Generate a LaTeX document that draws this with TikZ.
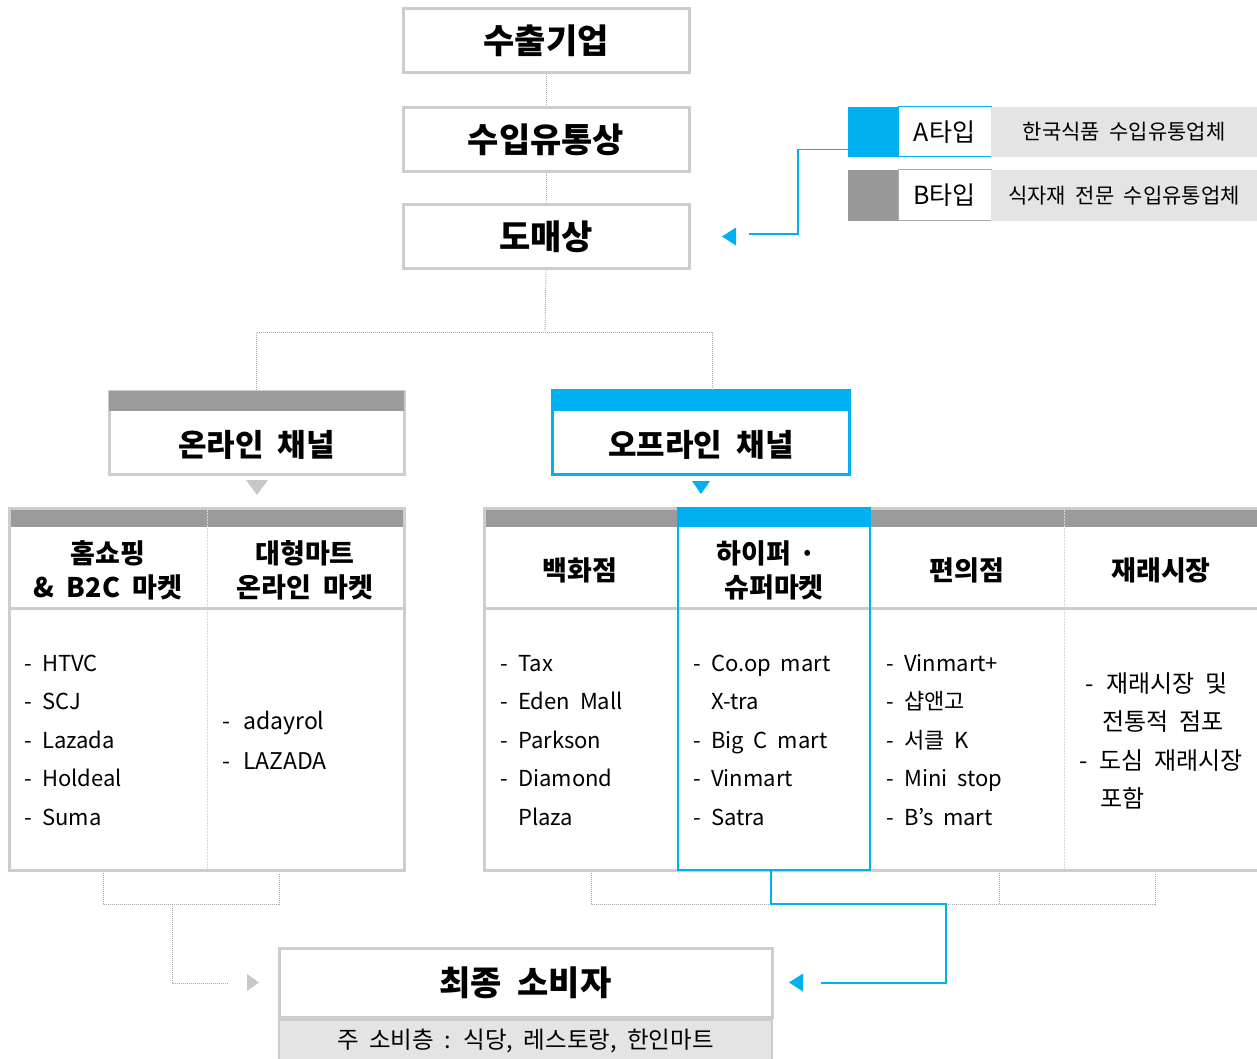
\documentclass[tikz,border=0pt]{standalone}
\usepackage{fontspec}
\setmainfont{Noto Sans CJK KR}[WordSpace=2]
\usetikzlibrary{calc}
\definecolor{cblue}{HTML}{00B0F0}
\definecolor{cbar}{HTML}{9B9B9B}
\definecolor{cbord}{HTML}{CDCDCD}
\definecolor{clite}{HTML}{E4E4E4}
\definecolor{cdot}{HTML}{ABABAB}
\definecolor{cdiv}{HTML}{D8D8D8}
\definecolor{ctri}{HTML}{C8C8C8}
\definecolor{cbgray}{HTML}{999999}
\definecolor{cbbord}{HTML}{AAAAAA}
\newcommand\dsh[1][18pt]{\makebox[#1][l]{-}}
\newcommand\ind[1][18pt]{\hspace*{#1}}
\begin{document}
\begin{tikzpicture}[x=1pt,y=-1pt,
  titlebox/.style={draw=cbord,line width=3pt,fill=white,minimum width=286pt,minimum height=64pt,inner sep=0pt,font=\fontsize{34}{40}\selectfont\bfseries},
  chantext/.style={inner sep=0pt,font=\fontsize{31}{36}\selectfont\bfseries},
  headtext/.style={inner sep=0pt,anchor=base,font=\fontsize{27}{32}\selectfont\bfseries},
  listtext/.style={inner sep=0pt,anchor=base west,font=\fontsize{22}{26}\selectfont},
  dotline/.style={draw=cdot,line width=0.9pt,dash pattern=on 1pt off 1pt},
  divline/.style={draw=cdiv,line width=0.8pt,dash pattern=on 1.5pt off 1.5pt},
  blueline/.style={draw=cblue,line width=1.2pt},
]
\useasboundingbox (0,0) rectangle (1257,1059);

% --- top chain
\node[titlebox] (exp) at (546,41) {수출기업};
\node[titlebox] (imp) at (546,139.5) {수입유통상};
\node[titlebox] (whl) at (546,236.5) {도매상};
\draw[dotline] (exp.south) -- (imp.north);
\draw[dotline] (imp.south) -- (whl.north);

% --- legend
\node[fill=cblue,minimum width=50pt,minimum height=50pt,inner sep=0pt] (ablk) at (873,132) {};
\node[draw=cblue,line width=1pt,fill=white,minimum width=93pt,minimum height=50pt,inner sep=0pt,font=\fontsize{25}{30}\selectfont] (atyp) at (944.5,132) {A타입};
\node[fill=clite,minimum width=266pt,minimum height=50pt,inner sep=0pt,font=\fontsize{21}{25}\selectfont] (adsc) at (1124,132) {한국식품 수입유통업체};
\node[fill=cbgray,minimum width=50pt,minimum height=51pt,inner sep=0pt] (bblk) at (873,195.5) {};
\node[draw=cbbord,line width=1pt,fill=white,minimum width=93pt,minimum height=51pt,inner sep=0pt,font=\fontsize{25}{30}\selectfont] (btyp) at (944.5,195.5) {B타입};
\node[fill=clite,minimum width=266pt,minimum height=51pt,inner sep=0pt,font=\fontsize{21}{25}\selectfont] (bdsc) at (1124,195.5) {식자재 전문 수입유통업체};
\coordinate (aend) at (749,234);
\draw[blueline] ($(ablk.south west)+(0,-8)$) -| (798,234) -- (aend);
\fill[cblue] (722,236.5) -- (736,227.5) -- (736,245.5) -- cycle;

% --- channels
\node[draw=cbord,line width=3pt,fill=white,minimum width=295pt,minimum height=83pt,inner sep=0pt] (on) at (256.5,432.5) {};
\fill[cbar] ($(on.north west)+(1.5,1.5)$) rectangle ($(on.north east)+(-1.5,21)$);
\node[chantext] (ontx) at (256.5,445) {온라인 채널};
\node[draw=cblue,line width=3pt,fill=white,minimum width=297pt,minimum height=84pt,inner sep=0pt] (off) at (701,432) {};
\fill[cblue] (off.north west) rectangle ($(off.north east)+(0,22)$);
\node[chantext] (offtx) at (701,445) {오프라인 채널};
\coordinate (tj) at (545,332);
\coordinate (offin) at (712,390);
\draw[dotline] (whl.south) -- (tj);
\draw[dotline] (on.north) |- (tj) -| (offin);
\fill[ctri] (246,480) -- (268,480) -- (257,495) -- cycle;
\fill[cblue] (692,481) -- (710,481) -- (701,494) -- cycle;

% --- left table
\draw[cbord,line width=3pt,fill=white] (9,508) rectangle (404,870);
\fill[cbar] (10.5,509.5) rectangle (402.5,527);
\draw[cbord,line width=3pt] (9,608) -- (404,608);
\draw[divline] (207,510) -- (207,869);
\node[headtext] (lh1a) at (108,563) {홈쇼핑};
\node[headtext] (lh1b) at (108,597) {\& B2C 마켓};
\node[headtext] (lh2a) at (305,563) {대형마트};
\node[headtext] (lh2b) at (305,597) {온라인 마켓};
\foreach \t [count=\i] in {HTVC,SCJ,Lazada,Holdeal,Suma}
  \node[listtext] (la\i) at (24,{671.5+38.4*(\i-1)}) {\dsh\t};
\node[listtext,font=\fontsize{23}{27}\selectfont] (lb1) at (222,729) {\dsh[21pt]adayrol};
\node[listtext,font=\fontsize{23}{27}\selectfont] (lb2) at (222,769) {\dsh[21pt]LAZADA};

% --- right table
\draw[cbord,line width=3pt,fill=white] (484,508) rectangle (1259,870);
\fill[cbar] (485.5,509.5) rectangle (1258,527);
\fill[cblue] (677,507) rectangle (871,527);
\draw[cbord,line width=3pt] (484,608) -- (1258,608);
\draw[divline] (1064,510) -- (1064,869);
\draw[cblue,line width=2.5pt] (678,527) -- (678,870) -- (870,870) -- (870,527);
\node[headtext] (rh1) at (580,580) {백화점};
\node[headtext] (rh2a) at (766,563) {하이퍼\hspace{0.3em}·};
\node[headtext] (rh2b) at (774,597) {슈퍼마켓};
\node[headtext] (rh3) at (967,580) {편의점};
\node[headtext] (rh4) at (1161,580) {재래시장};
\foreach \t [count=\i] in {\dsh Tax,\dsh Eden Mall,\dsh Parkson,\dsh Diamond,\ind Plaza}
  \node[listtext] (ra\i) at (500,{671.5+38.4*(\i-1)}) {\t};
\foreach \t [count=\i] in {\dsh Co.op mart,\ind X-tra,\dsh Big C mart,\dsh Vinmart,\dsh Satra}
  \node[listtext] (rb\i) at (693,{671.5+38.4*(\i-1)}) {\t};
\foreach \t [count=\i] in {\dsh Vinmart+,\dsh 샵앤고,\dsh 서클 K,\dsh Mini stop,\dsh B’s mart}
  \node[listtext] (rc\i) at (886,{671.5+38.4*(\i-1)}) {\t};
\node[listtext,font=\fontsize{24}{28}\selectfont] (rd1) at (1085,692) {\dsh[21pt]재래시장 및};
\node[listtext,font=\fontsize{24}{28}\selectfont] (rd2) at (1102,730) {전통적 점포};
\node[listtext,font=\fontsize{24}{28}\selectfont] (rd3) at (1079,769) {\dsh[20pt]도심 재래시장};
\node[listtext,font=\fontsize{24}{28}\selectfont] (rd4) at (1100,807) {포함};

% --- final consumer
\node[draw=cbord,line width=3pt,fill=white,minimum width=493pt,minimum height=69pt,inner sep=0pt,font=\fontsize{34}{40}\selectfont\bfseries] (fin) at (525.5,982.5) {최종 소비자};
\node[draw=cbord,line width=2pt,fill=clite,minimum width=493pt,minimum height=42pt,inner sep=0pt,font=\fontsize{23.5}{28}\selectfont,anchor=north] (sub) at (fin.south) {주 소비층 : 식당, 레스토랑, 한인마트};

% --- bottom connectors
\coordinate (lc1) at (103,873);
\coordinate (lc2) at (279,873);
\coordinate (lj) at (172,904);
\coordinate (lend) at (229,983);
\draw[dotline] (lc1) |- (lj) -| (lc2);
\draw[dotline] (lj) |- (lend);
\fill[ctri] (247,974) -- (259,982.5) -- (247,991) -- cycle;
\coordinate (rc1) at (591,873);
\coordinate (rc2) at (999,873);
\coordinate (rc3) at (1155,873);
\coordinate (rj) at (999,904);
\draw[dotline] (rc1) |- (rj) -| (rc3);
\draw[dotline] (rc2) -- (rj);
\coordinate (rbs) at (771,871);
\coordinate (rend) at (821,983);
\draw[blueline] (rbs) |- (946,904) |- (rend);
\fill[cblue] (789,982.5) -- (803,973.5) -- (803,991.5) -- cycle;
\end{tikzpicture}
\end{document}
